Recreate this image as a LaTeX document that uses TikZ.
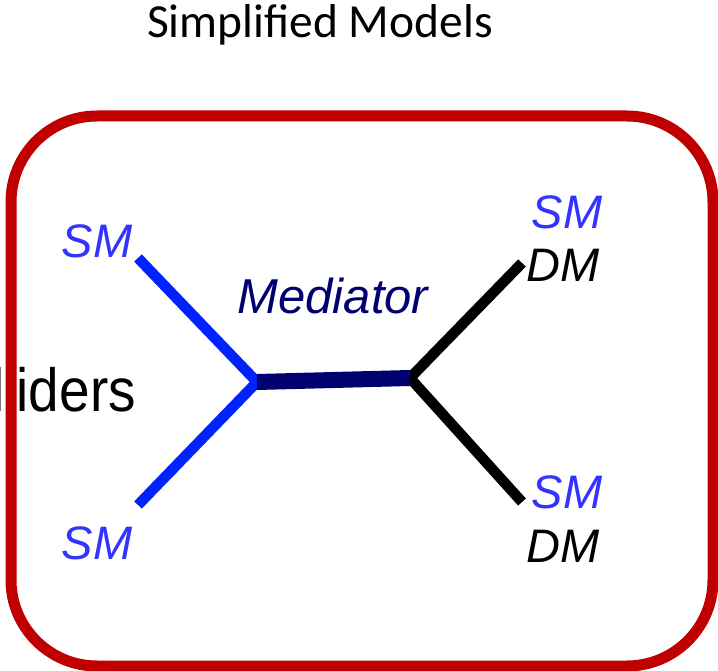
\documentclass[tikz,border=0pt]{standalone}
\usepackage{fontspec}
\setmainfont{Liberation Sans}
\newfontfamily\titlefont{Carlito}
\definecolor{boxred}{HTML}{C00000}
\definecolor{smblue}{HTML}{3333FF}
\definecolor{legblue}{HTML}{0022FF}
\definecolor{navy}{HTML}{000070}
\begin{document}
\begin{tikzpicture}[x=1pt,y=-1pt,
  lbl/.style={inner sep=0pt,font=\fontsize{47}{52}\selectfont\itshape},
  leg/.style={line width=10.5pt},
  ]
\useasboundingbox (0,0) rectangle (718,671);
\clip (0,0) rectangle (718,671);
% title
\node[inner sep=0pt,anchor=base,font=\titlefont\fontsize{47.5}{52}\selectfont] (title) at (320,38) {Simplified Models};
% text behind the frame, partly cut off
\node[inner sep=0pt,anchor=base east,xscale=0.9,font=\fontsize{61}{66}\selectfont] (coll) at (136,411) {Colliders};
% frame
\draw[boxred,line width=11pt,rounded corners=86pt] (11,116) rectangle (713,666);
% vertices and leg ends
\coordinate (v1) at (257,382);
\coordinate (v2) at (410,378);
\coordinate (a) at (138,258);
\coordinate (b) at (138,505);
\coordinate (c) at (522,263);
\coordinate (d) at (522,502);
\draw[leg,legblue] (a) -- (v1);
\draw[leg,legblue] (b) -- (v1);
\draw[leg,black] (v2) -- (c);
\draw[leg,black] (v2) -- (d);
\draw[navy,line width=16pt] (v1) -- (v2);
% labels
\node[lbl,smblue,anchor=base] (sma) at (97,258) {SM};
\node[lbl,smblue,anchor=base] (smb) at (97,559) {SM};
\node[lbl,navy,anchor=base,font=\fontsize{49}{54}\selectfont\itshape] (med) at (333,313) {Mediator};
\node[lbl,smblue,anchor=base] (smc) at (567,229) {SM};
\node[lbl,black,anchor=base] (dmc) at (563,282) {DM};
\node[lbl,smblue,anchor=base] (smd) at (567,508) {SM};
\node[lbl,black,anchor=base] (dmd) at (563,562) {DM};
\end{tikzpicture}
\end{document}
